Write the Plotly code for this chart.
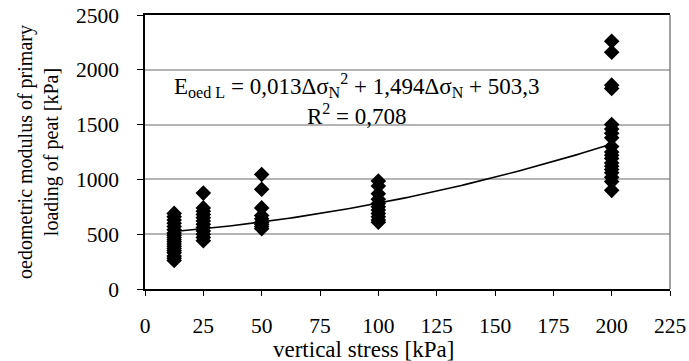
import numpy as np
import plotly.graph_objects as go

# measured values [kPa]
x_12_5 = [690, 660, 630, 600, 570, 540, 510, 490, 470, 450, 430, 410, 390, 370, 350, 330, 300, 280, 260]
x_25 = [875, 740, 710, 680, 650, 620, 590, 560, 530, 500, 470, 440]
x_50 = [1045, 910, 740, 670, 640, 610, 590, 570, 550]
x_100 = [985, 940, 870, 820, 780, 750, 720, 690, 660, 630, 610]
x_200 = [2260, 2160, 1860, 1830, 1500, 1460, 1420, 1380, 1300, 1250, 1220, 1190,
         1150, 1120, 1090, 1060, 1020, 980, 900]
stress_levels = [12.5, 25, 50, 100, 200]
groups = [x_12_5, x_25, x_50, x_100, x_200]

# trend line coefficients (a*x^2 + b*x + c)
trend_coeffs = [0.013, 1.494, 503.3]

xs, ys = [], []
for s, g in zip(stress_levels, groups):
    xs += [s] * len(g)
    ys += g

font_family = "Liberation Serif"

fig = go.Figure()
fig.add_trace(go.Scatter(
    x=xs, y=ys, mode="markers",
    marker=dict(symbol="diamond", size=12, color="black"),
    showlegend=False, cliponaxis=False))

tx = np.linspace(stress_levels[0], stress_levels[-1], 100)
ty = np.polyval(trend_coeffs, tx)
fig.add_trace(go.Scatter(x=tx, y=ty, mode="lines",
                         line=dict(color="black", width=1.6), showlegend=False))

fig.add_annotation(
    x=0.404, y=0.69, xref="paper", yref="paper", showarrow=False,
    xanchor="center", yanchor="middle",
    text="E<sub>oed L</sub> = 0,013Δσ<sub>N</sub><sup>2</sup> + 1,494Δσ<sub>N</sub> + 503,3<br>R<sup>2</sup> = 0,708",
    font=dict(family=font_family, size=23, color="black"), align="center")

# x-axis title (placed slightly left of centre, as in the original)
fig.add_annotation(
    x=0.417, y=-0.222, xref="paper", yref="paper", showarrow=False,
    xanchor="center", yanchor="middle",
    text="vertical stress [kPa]",
    font=dict(family=font_family, size=23, color="black"))

fig.add_shape(type="line", xref="paper", yref="paper", x0=1, x1=1, y0=0, y1=1,
              line=dict(color="#808080", width=1.5))

fig.update_layout(
    width=689, height=361,
    margin=dict(l=145, r=19, t=15, b=72),
    paper_bgcolor="white", plot_bgcolor="white",
    font=dict(family=font_family, size=20, color="black"),
    xaxis=dict(range=[0, 225], tickvals=list(range(0, 226, 25)),
               showgrid=False, zeroline=False, automargin=False,
               showline=True, linecolor="black", linewidth=1.5, mirror=True,
               ticks="outside", ticklen=5, tickcolor="black", ticklabelstandoff=11,
               tickfont=dict(family=font_family, size=21.5)),
    yaxis=dict(range=[0, 2500], tickvals=list(range(0, 2501, 500)),
               showgrid=True, gridcolor="#b4b4b4", gridwidth=1.5, zeroline=False,
               automargin=False,
               showline=True, linecolor="black", linewidth=1.5,
               ticks="outside", ticklen=6, tickcolor="black", ticklabelstandoff=14,
               tickfont=dict(family=font_family, size=21.5),
               title=dict(text="oedometric modulus of primary<br>loading of peat [kPa]",
                          standoff=12, font=dict(family=font_family, size=20))),
)

fig.write_html("out.html", post_script="document.body.style.margin='0';",
               config={"displayModeBar": False})
